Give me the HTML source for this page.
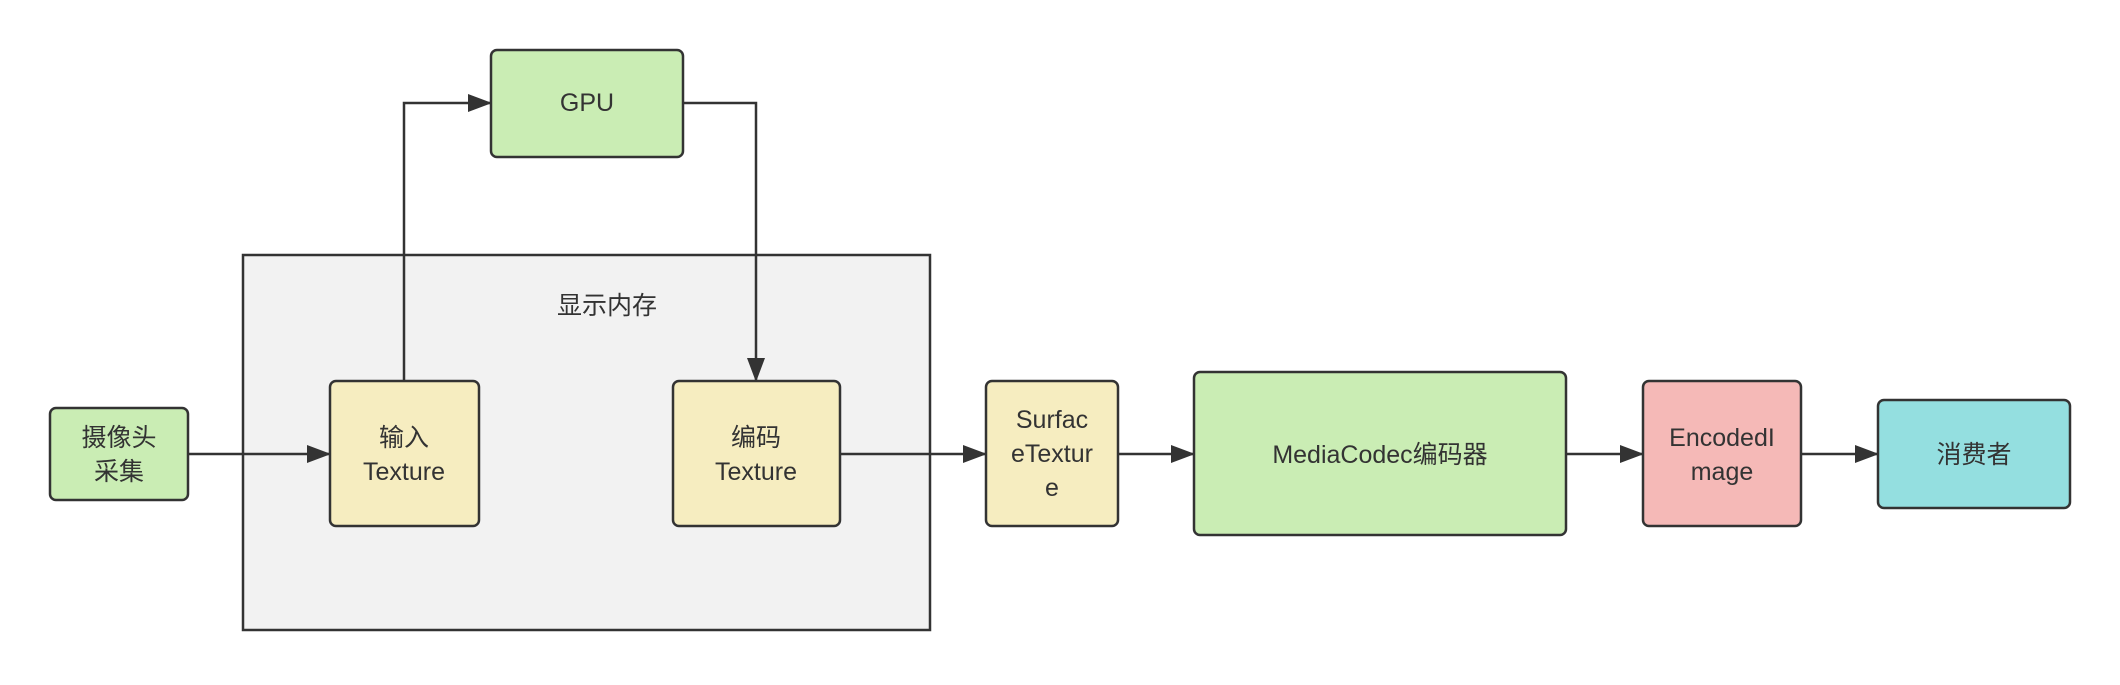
<!DOCTYPE html>
<html><head><meta charset="utf-8"><style>
html,body{margin:0;padding:0;background:#fff;}
svg text{font-family:"Liberation Sans","Noto Sans CJK SC",sans-serif;font-size:25px;fill:#333;text-anchor:middle;dominant-baseline:central;}
</style></head><body>
<svg width="2120" height="680" viewBox="0 0 2120 680" xmlns="http://www.w3.org/2000/svg">
<defs>
<marker id="b" markerWidth="24" markerHeight="24" refX="22" refY="9" orient="auto" markerUnits="userSpaceOnUse" viewBox="0 0 24 18"><path d="M0,0 L24,9 L0,18 z" fill="#333"/></marker></defs>
<rect x="243" y="255" width="687" height="375" fill="#f2f2f2" stroke="#333" stroke-width="2.5"/>
<text x="607" y="306">显示内存</text>
<g stroke="#333" stroke-width="2.5" fill="none">
<path d="M188 454 H329" marker-end="url(#b)"/>
<path d="M404 381 V103 H490" marker-end="url(#b)"/>
<path d="M683 103 H756 V380" marker-end="url(#b)"/>
<path d="M840 454 H985" marker-end="url(#b)"/>
<path d="M1118 454 H1193" marker-end="url(#b)"/>
<path d="M1566 454 H1642" marker-end="url(#b)"/>
<path d="M1801 454 H1877" marker-end="url(#b)"/>
</g>
<g stroke="#333" stroke-width="2.5">
<rect x="50" y="408" width="138" height="92" rx="6" fill="#caedb4"/>
<rect x="330" y="381" width="149" height="145" rx="6" fill="#f6edc0"/>
<rect x="673" y="381" width="167" height="145" rx="6" fill="#f6edc0"/>
<rect x="491" y="50" width="192" height="107" rx="6" fill="#caedb4"/>
<rect x="986" y="381" width="132" height="145" rx="6" fill="#f6edc0"/>
<rect x="1194" y="372" width="372" height="163" rx="6" fill="#caedb4"/>
<rect x="1643" y="381" width="158" height="145" rx="6" fill="#f5b9b7"/>
<rect x="1878" y="400" width="192" height="108" rx="6" fill="#94dfe0"/>
</g>
<text x="119" y="438">摄像头</text><text x="119" y="472">采集</text>
<text x="404" y="438">输入</text><text x="404" y="472">Texture</text>
<text x="756" y="438">编码</text><text x="756" y="472">Texture</text>
<text x="587" y="103">GPU</text>
<text x="1052" y="420">Surfac</text><text x="1052" y="454">eTextur</text><text x="1052" y="488">e</text>
<text x="1380" y="455">MediaCodec编码器</text>
<text x="1722" y="438">EncodedI</text><text x="1722" y="472">mage</text>
<text x="1974" y="455">消费者</text>
</svg>
</body></html>
